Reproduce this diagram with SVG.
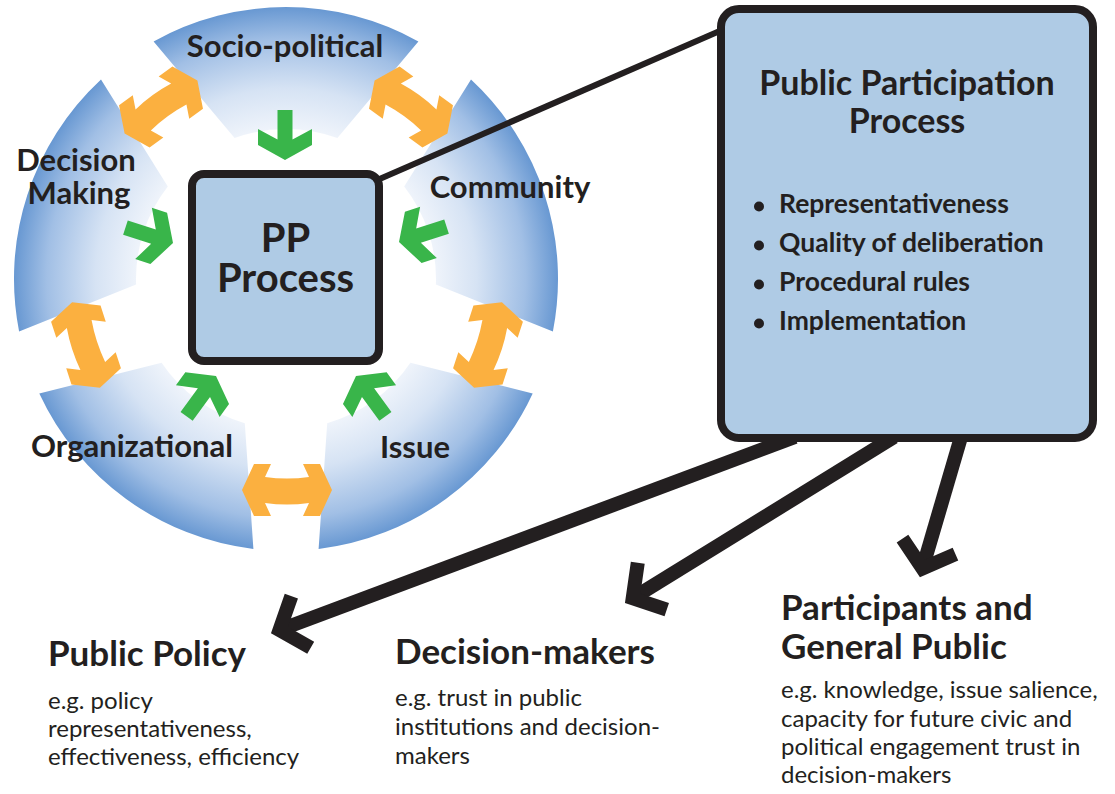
<svg xmlns="http://www.w3.org/2000/svg" width="1115" height="794" viewBox="0 0 1115 794">
  <defs>
    <radialGradient id="ringFill" gradientUnits="userSpaceOnUse" cx="286" cy="279" r="272">
      <stop offset="0" stop-color="#ffffff"/>
      <stop offset="0.52" stop-color="#f4f7fc"/>
      <stop offset="0.7" stop-color="#d6e3f4"/>
      <stop offset="0.88" stop-color="#a1bfe5"/>
      <stop offset="1" stop-color="#6898d2"/>
    </radialGradient>
    <!-- tangential double-headed arrow between two ring segments -->
    <path id="dblArrow" d="M -45 0 L -33 -26 L -16 -26 L -22 -13 Q 0 -10 22 -13 L 16 -26 L 33 -26 L 45 0 L 33 26 L 16 26 L 22 13 Q 0 16 -22 13 L -16 26 L -33 26 Z"/>
    <!-- inward arrow, tip at origin, pointing +y -->
    <path id="inArrow" d="M -7.5 -50 L 7.5 -50 L 7.5 -20.5 L 27 -31 L 27 -15 L 0 0 L -27 -15 L -27 -31 L -7.5 -20.5 Z"/>
    <marker id="chevron" markerUnits="userSpaceOnUse" markerWidth="1" markerHeight="1" refX="0" refY="0" orient="auto" overflow="visible">
      <path d="M -23 -27.6 L 0 0 L -23 27.6" fill="none" stroke="#231f20" stroke-width="14" stroke-miterlimit="10"/>
    </marker>
    <style>
      .seg { fill: url(#ringFill); }
      .dbl { fill: #fbb040; }
      .grn { fill: #39b54a; }
      .box { fill: #afcbe5; stroke: #231f20; stroke-width: 8; }
      .lbl { font-family: Lato, "Open Sans", sans-serif; font-weight: 700; fill: #231f20; }
      .body { font-family: Lato, "Open Sans", sans-serif; font-weight: 400; fill: #231f20; font-size: 24px; }
      .title { font-size: 35px; }
      .item { font-size: 26.5px; }
      .link { fill: none; stroke: #231f20; stroke-width: 6; }
      .out { fill: none; stroke: #231f20; stroke-width: 14; marker-end: url(#chevron); }
    </style>
  </defs>

  <rect width="1115" height="794" fill="#ffffff"/>

  <!-- ring of context segments -->
  <g id="seg-socio-political">
    <path class="seg" d="M 418.4 41.4 A 272 272 0 0 0 153.6 41.4 L 234.6 138.1 A 150 150 0 0 1 337.4 138.1 Z"/>
    <text class="lbl" x="285" y="57" font-size="31" text-anchor="middle">Socio-political</text>
  </g>
  <g id="seg-decision-making">
    <path class="seg" d="M 101.0 79.6 A 272 272 0 0 0 19.1 331.5 L 136.1 284.4 A 150 150 0 0 1 167.8 186.6 Z"/>
    <text class="lbl" x="76" y="171" font-size="31" text-anchor="middle">Decision</text>
    <text class="lbl" x="79" y="204" font-size="31" text-anchor="middle">Making</text>
  </g>
  <g id="seg-organizational">
    <path class="seg" d="M 39.3 393.4 A 272 272 0 0 0 253.4 549.0 L 244.8 423.2 A 150 150 0 0 1 161.6 362.8 Z"/>
    <text class="lbl" x="132" y="457" font-size="31" text-anchor="middle">Organizational</text>
  </g>
  <g id="seg-issue">
    <path class="seg" d="M 318.6 549.0 A 272 272 0 0 0 532.7 393.4 L 410.4 362.8 A 150 150 0 0 1 327.2 423.2 Z"/>
    <text class="lbl" x="415" y="458" font-size="31" text-anchor="middle">Issue</text>
  </g>
  <g id="seg-community">
    <path class="seg" d="M 552.9 331.5 A 272 272 0 0 0 471.0 79.6 L 404.2 186.6 A 150 150 0 0 1 435.9 284.4 Z"/>
    <text class="lbl" x="510" y="198" font-size="31" text-anchor="middle">Community</text>
  </g>

  <!-- two-way links between neighbouring segments -->
  <g id="segment-links">
    <use href="#dblArrow" class="dbl" transform="translate(411 107) rotate(-144)"/>
    <use href="#dblArrow" class="dbl" transform="translate(161 107) rotate(144)"/>
    <use href="#dblArrow" class="dbl" transform="translate(86 345) rotate(72)"/>
    <use href="#dblArrow" class="dbl" transform="translate(287 490)"/>
    <use href="#dblArrow" class="dbl" transform="translate(488 345) rotate(-72)"/>
  </g>

  <!-- influences flowing into the process -->
  <g id="segment-influences">
    <use href="#inArrow" class="grn" transform="translate(285 160)"/>
    <use href="#inArrow" class="grn" transform="translate(399 242) rotate(72)"/>
    <use href="#inArrow" class="grn" transform="translate(173 243) rotate(-72)"/>
    <use href="#inArrow" class="grn" transform="translate(216 376) rotate(-144)"/>
    <use href="#inArrow" class="grn" transform="translate(356 376) rotate(144)"/>
  </g>

  <!-- connectors -->
  <g id="connectors">
    <line class="link" x1="375" y1="181" x2="722" y2="30"/>
    <line class="out" x1="795" y1="437" x2="279.5" y2="630"/>
    <line class="out" x1="894" y1="437" x2="632.7" y2="598.3"/>
    <line class="out" x1="961" y1="437" x2="922.5" y2="568.4"/>
  </g>

  <g id="node-pp-process">
    <rect class="box" x="192" y="174" width="187" height="187" rx="12"/>
    <text class="lbl" x="285.5" y="252" font-size="40" text-anchor="middle">PP</text>
    <text class="lbl" x="285.5" y="292" font-size="40" text-anchor="middle">Process</text>
  </g>

  <g id="node-public-participation">
    <rect class="box" x="721" y="9" width="372" height="429" rx="18"/>
    <text class="lbl" x="907" y="95" font-size="34" text-anchor="middle">Public Participation</text>
    <text class="lbl" x="907" y="133" font-size="34" text-anchor="middle">Process</text>
    <g fill="#231f20">
      <circle cx="759" cy="206.5" r="5"/>
      <circle cx="759" cy="245.5" r="5"/>
      <circle cx="759" cy="284.5" r="5"/>
      <circle cx="759" cy="323.5" r="5"/>
    </g>
    <text class="lbl item" x="779" y="213">Representativeness</text>
    <text class="lbl item" x="779" y="252">Quality of deliberation</text>
    <text class="lbl item" x="779" y="291">Procedural rules</text>
    <text class="lbl item" x="779" y="330">Implementation</text>
  </g>

  <g id="node-public-policy">
    <text class="lbl title" x="48" y="666">Public Policy</text>
    <text class="body" x="48" y="709">e.g. policy</text>
    <text class="body" x="48" y="737">representativeness,</text>
    <text class="body" x="48" y="765">effectiveness, efficiency</text>
  </g>

  <g id="node-decision-makers">
    <text class="lbl title" x="395" y="664">Decision-makers</text>
    <text class="body" x="395" y="706">e.g. trust in public</text>
    <text class="body" x="395" y="735">institutions and decision-</text>
    <text class="body" x="395" y="764">makers</text>
  </g>

  <g id="node-participants">
    <text class="lbl title" x="781" y="620">Participants and</text>
    <text class="lbl title" x="781" y="659">General Public</text>
    <text class="body" x="781" y="698">e.g. knowledge, issue salience,</text>
    <text class="body" x="781" y="727">capacity for future civic and</text>
    <text class="body" x="781" y="755">political engagement trust in</text>
    <text class="body" x="781" y="783">decision-makers</text>
  </g>
</svg>
